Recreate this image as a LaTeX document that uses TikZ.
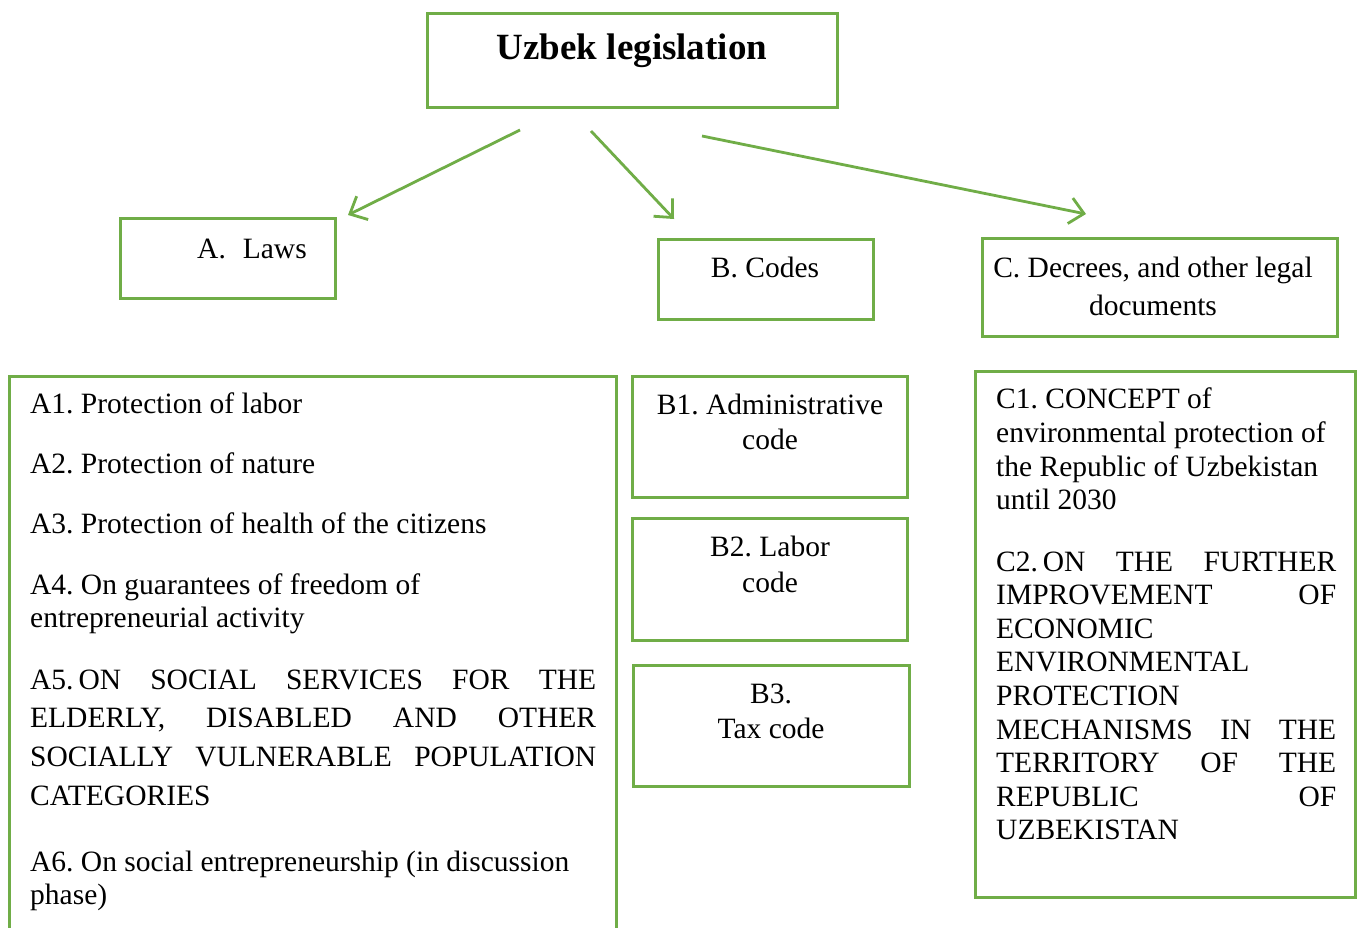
\documentclass[tikz,border=0pt]{standalone}
\usepackage{fontspec}
\setmainfont{Liberation Serif}
\usetikzlibrary{arrows.meta}
\definecolor{grn}{HTML}{70AD47}
\newcommand{\jline}[2]{\makebox[#1][s]{#2}}
\frenchspacing
\begin{document}
\begin{tikzpicture}[x=1pt,y=-1pt,
  box/.style={draw=grn, line width=3pt, inner sep=0pt, outer sep=0pt, anchor=north west},
  txt/.style={inner sep=0pt, anchor=base west, font=\fontsize{29.5}{34}\selectfont},
  ctxt/.style={txt, anchor=base},
  arr/.style={draw=grn, line width=2.8pt, -{Straight Barb[length=14pt,width=26pt]}}]
\clip (0,0) rectangle (1360,927);
\fill[white] (0,0) rectangle (1360,927);
% boxes
\node[box, minimum width=410pt, minimum height=94pt] (topbox) at (427,13) {};
\node[box, minimum width=215pt, minimum height=80pt] (Abox) at (120,218) {};
\node[box, minimum width=215pt, minimum height=80pt] (Bbox) at (658,239) {};
\node[box, minimum width=355pt, minimum height=98pt] (Cbox) at (982,238) {};
\node[box, minimum width=607pt, minimum height=600pt] (Alist) at (9,376) {};
\node[box, minimum width=275pt, minimum height=121pt] (B1box) at (632,376) {};
\node[box, minimum width=275pt, minimum height=122pt] (B2box) at (632,518) {};
\node[box, minimum width=276pt, minimum height=121pt] (B3box) at (633,665) {};
\node[box, minimum width=380pt, minimum height=526pt] (Clist) at (975,371) {};
% title
\node[inner sep=0pt, anchor=base, font=\fontsize{37}{42}\selectfont\bfseries] (title) at (632,59) {Uzbek legislation};
% arrows
\coordinate (s1) at (520,130); \coordinate (e1) at (348,215);
\coordinate (s2) at (591,131); \coordinate (e2) at (674,219);
\coordinate (s3) at (702,136); \coordinate (e3) at (1086,214);
\draw[arr] (s1) -- (e1);
\draw[arr] (s2) -- (e2);
\draw[arr] (s3) -- (e3);
% category labels
\node[txt] (Alab) at (197,258) {A.\hspace{17pt}Laws};
\node[ctxt] (Blab) at (765,277) {B. Codes};
\node[ctxt] (Clab1) at (1153,277) {C. Decrees, and other legal};
\node[ctxt] (Clab2) at (1153,315) {documents};
% A list
\node[txt] (a1) at (30,413) {A1. Protection of labor};
\node[txt] (a2) at (30,473) {A2. Protection of nature};
\node[txt] (a3) at (30,533) {A3. Protection of health of the citizens};
\node[txt] (a4a) at (30,594) {A4. On guarantees of freedom of};
\node[txt] (a4b) at (30,627) {entrepreneurial activity};
\node[txt] (a5a) at (30,689) {\jline{566pt}{A5.\,ON SOCIAL SERVICES FOR THE}};
\node[txt] (a5b) at (30,727) {\jline{566pt}{ELDERLY, DISABLED AND OTHER}};
\node[txt] (a5c) at (30,766) {\jline{566pt}{SOCIALLY VULNERABLE POPULATION}};
\node[txt] (a5d) at (30,805) {CATEGORIES};
\node[txt] (a6a) at (30,871) {A6. On social entrepreneurship (in discussion};
\node[txt] (a6b) at (30,904) {phase)};
% B list
\node[ctxt] (b1a) at (770,414) {B1. Administrative};
\node[ctxt] (b1b) at (770,449) {code};
\node[ctxt] (b2a) at (770,556) {B2. Labor};
\node[ctxt] (b2b) at (770,592) {code};
\node[ctxt] (b3a) at (771,703) {B3.};
\node[ctxt] (b3b) at (771,738) {Tax code};
% C list
\node[txt] (c1a) at (996,408) {C1. CONCEPT of};
\node[txt] (c1b) at (996,442) {environmental protection of};
\node[txt] (c1c) at (996,476) {the Republic of Uzbekistan};
\node[txt] (c1d) at (996,509) {until 2030};
\node[txt] (c2a) at (996,571) {\jline{340pt}{C2.\,ON THE FURTHER}};
\node[txt] (c2b) at (996,604) {\jline{340pt}{IMPROVEMENT OF}};
\node[txt] (c2c) at (996,638) {ECONOMIC};
\node[txt] (c2d) at (996,671) {ENVIRONMENTAL};
\node[txt] (c2e) at (996,705) {PROTECTION};
\node[txt] (c2f) at (996,739) {\jline{340pt}{MECHANISMS IN THE}};
\node[txt] (c2g) at (996,772) {\jline{340pt}{TERRITORY OF THE}};
\node[txt] (c2h) at (996,806) {\jline{340pt}{REPUBLIC OF}};
\node[txt] (c2i) at (996,839) {UZBEKISTAN};
\end{tikzpicture}
\end{document}
